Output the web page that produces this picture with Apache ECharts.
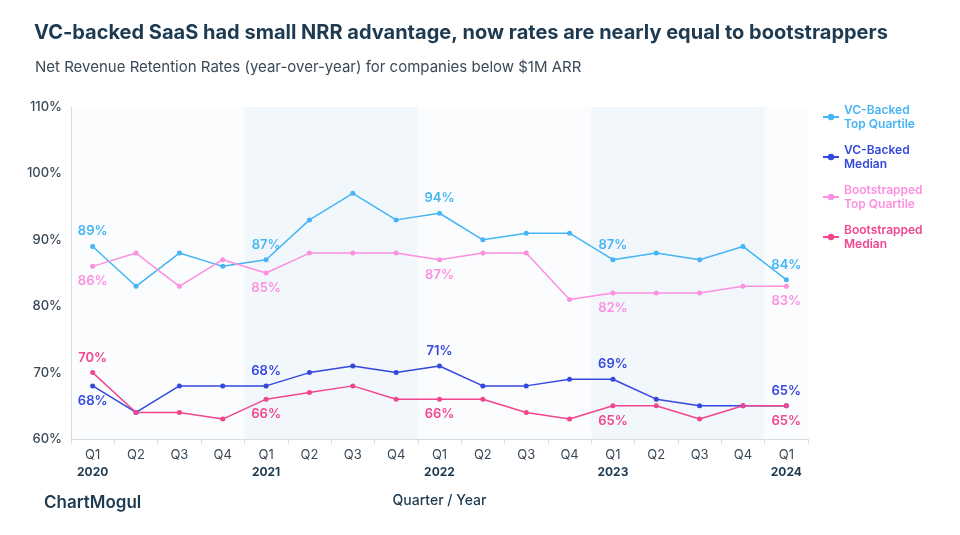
<!DOCTYPE html>
<html><head><meta charset="utf-8">
<script src="https://cdn.jsdelivr.net/npm/echarts@6/dist/echarts.min.js"></script>
<style>html,body{margin:0;padding:0;background:#fff}#c{width:960px;height:535px}</style>
</head><body><div id="c"></div>
<script>
const quarters = ['Q1','Q2','Q3','Q4','Q1','Q2','Q3','Q4','Q1','Q2','Q3','Q4','Q1','Q2','Q3','Q4','Q1'];
const years = ['2020','','','','2021','','','','2022','','','','2023','','','','2024'];
const yTicks = [60, 70, 80, 90, 100, 110];
const vcTop = [89, 83, 88, 86, 87, 93, 97, 93, 94, 90, 91, 91, 87, 88, 87, 89, 84];
const vcMedian = [68, 64, 68, 68, 68, 70, 71, 70, 71, 68, 68, 69, 69, 66, 65, 65, 65];
const bootTop = [86, 88, 83, 87, 85, 88, 88, 88, 87, 88, 88, 81, 82, 82, 82, 83, 83];
const bootMedian = [70, 64, 64, 63, 66, 67, 68, 66, 66, 66, 64, 63, 65, 65, 63, 65, 65];
const labelIdx = [0, 4, 8, 12, 16];

const font = 'Inter, "Noto Sans", sans-serif';
const cats = quarters.map((q, i) => q + '|' + years[i] + '|' + i);

function mkSeries(name, data, color, posFn) {
  return {
    name, type: 'line', data: data.map((v, i) => {
      const d = { value: v };
      if (labelIdx.includes(i)) {
        d.label = { show: true, position: posFn(i), distance: 6 };
      }
      return d;
    }),
    symbol: 'circle', symbolSize: 5, color,
    lineStyle: { width: 1.5, color },
    itemStyle: { color },
    label: { show: false, formatter: '{c}%', color, fontFamily: font, fontSize: 13, fontWeight: 600 },
    emphasis: { disabled: true }, animation: false, z: 3
  };
}

const chart = echarts.init(document.getElementById('c'));
chart.setOption({
  animation: false,
  title: [
    { text: 'VC-backed SaaS had small NRR advantage, now rates are nearly equal to bootstrappers', left: 29, top: 18,
      textStyle: { fontFamily: font, fontSize: 20, fontWeight: 700, color: '#1d3a51' } },
    { text: 'Net Revenue Retention Rates (year-over-year) for companies below $1M ARR', left: 30, top: 55,
      textStyle: { fontFamily: font, fontSize: 15, fontWeight: 400, color: '#3b4a58' } },
    { text: 'ChartMogul', left: 39, top: 489,
      textStyle: { fontFamily: font, fontSize: 17, fontWeight: 600, color: '#1d3a51' } }
  ],
  legend: {
    orient: 'vertical', left: 817, top: 98, itemWidth: 16, itemHeight: 8, itemGap: 12,
    textStyle: { fontFamily: font, fontSize: 12, fontWeight: 600, lineHeight: 14 },
    data: [
      { name: 'VC-Backed\nTop Quartile', textStyle: { color: '#45b5f5' } },
      { name: 'VC-Backed\nMedian', textStyle: { color: '#3447de' } },
      { name: 'Bootstrapped\nTop Quartile', textStyle: { color: '#fc8fe0' } },
      { name: 'Bootstrapped\nMedian', textStyle: { color: '#f2458f' } }
    ]
  },
  grid: { left: 71, right: 152, top: 107, bottom: 96 },
  xAxis: {
    type: 'category', data: cats, boundaryGap: true,
    name: 'Quarter / Year', nameLocation: 'middle', nameGap: 55,
    nameTextStyle: { fontFamily: font, fontSize: 14, fontWeight: 500, color: '#1d3a51' },
    axisLine: { show: true, lineStyle: { color: '#d9dde2' } },
    axisTick: { show: true, length: 5, lineStyle: { color: '#d9dde2' } },
    axisLabel: {
      interval: 0, margin: 8,
      formatter: v => { const p = v.split('|'); return '{q|' + p[0] + '}' + (p[1] ? '\n{y|' + p[1] + '}' : '\n{y| }'); },
      rich: {
        q: { fontFamily: font, fontSize: 13, color: '#3b4a58', lineHeight: 17 },
        y: { fontFamily: font, fontSize: 12, fontWeight: 700, color: '#1d3a51', lineHeight: 17 }
      }
    },
    splitArea: { show: true, interval: 3, areaStyle: { color: ['#fafcfd', '#f2f7fb'] } },
    splitLine: { show: false }
  },
  yAxis: {
    type: 'value', min: yTicks[0], max: yTicks[yTicks.length - 1], interval: 10,
    axisLine: { show: true, lineStyle: { color: '#d9dde2' } },
    axisTick: { show: false },
    axisLabel: { formatter: '{value}%', fontFamily: font, fontSize: 13, fontWeight: 500, color: '#3b4a58', margin: 9 },
    splitLine: { lineStyle: { color: '#dfe2e5', width: 1 } }
  },
  series: [
    mkSeries('VC-Backed\nTop Quartile', vcTop, '#45b5f5', i => 'top'),
    mkSeries('VC-Backed\nMedian', vcMedian, '#3447de', i => i === 0 ? 'bottom' : 'top'),
    mkSeries('Bootstrapped\nTop Quartile', bootTop, '#fc8fe0', i => 'bottom'),
    mkSeries('Bootstrapped\nMedian', bootMedian, '#f2458f', i => i === 0 ? 'top' : 'bottom')
  ]
});
</script></body></html>
